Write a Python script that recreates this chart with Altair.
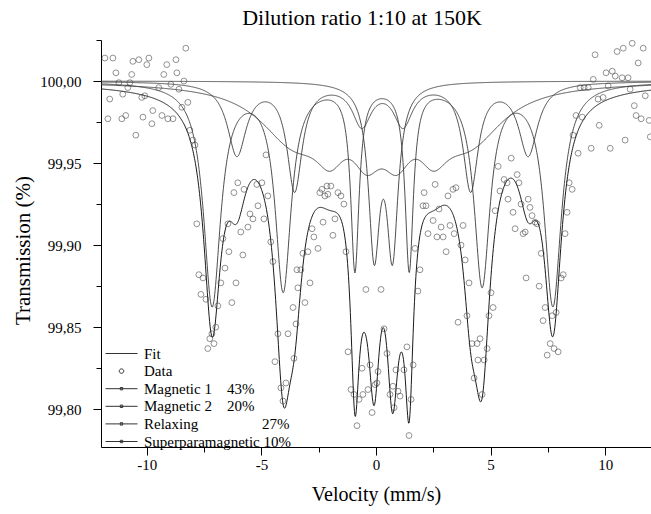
import numpy as np
import pandas as pd
import altair as alt

# ---- measured data points (velocity mm/s, transmission %) ----
data_v = [-11.83, -11.70, -11.62, -11.48, -11.35, -11.22, -11.09, -11.05, -10.92, -10.83,
          -10.74, -10.66, -10.61, -10.48, -10.35, -10.22, -10.17, -10.09, -10.00, -9.91,
          -9.78, -9.74, -9.48, -9.34, -9.26, -9.13, -9.08, -8.95, -8.86, -8.73,
          -8.69, -8.60, -8.47, -8.38, -8.30, -8.21, -8.12, -7.99, -7.90, -7.82,
          -7.73, -7.64, -7.55, -7.42, -7.34, -7.25, -7.16, -7.07, -6.99, -6.90,
          -6.77, -6.68, -6.59, -6.46, -6.42, -6.29, -6.20, -6.11, -6.03, -5.90,
          -5.81, -5.76, -5.59, -5.50, -5.37, -5.20, -5.15, -4.98, -4.89, -4.80,
          -4.72, -4.59, -4.50, -4.41, -4.28, -4.15, -4.06, -3.93, -3.84, -3.62,
          -3.58, -3.49, -3.45, -3.41, -3.28, -3.19, -3.10, -2.97, -2.88, -2.79,
          -2.71, -2.53, -2.45, -2.36, -2.31, -2.23, -2.14, -2.10, -1.97, -1.88,
          -1.79, -1.66, -1.53, -1.40, -1.31, -1.22, -1.09, -0.96, -0.83, -0.74,
          -0.61, -0.57, -0.44, -0.35, -0.26, -0.17, -0.04, 0.04, 0.09, 0.22,
          0.35, 0.48, 0.61, 0.74, 0.79, 0.87, 0.96, 1.05, 1.22, 1.35,
          1.44, 1.53, 1.62, 1.70, 1.83, 1.92, 2.05, 2.10, 2.18, 2.27,
          2.49, 2.58, 2.66, 2.75, 2.84, 2.93, 3.06, 3.14, 3.23, 3.36,
          3.41, 3.49, 3.58, 3.71, 3.80, 3.89, 3.97, 4.06, 4.19, 4.28,
          4.41, 4.45, 4.54, 4.63, 4.72, 4.85, 4.93, 5.02, 5.11, 5.20,
          5.33, 5.41, 5.59, 5.72, 5.76, 5.90, 5.98, 6.07, 6.16, 6.24,
          6.33, 6.42, 6.51, 6.55, 6.64, 6.72, 6.81, 6.94, 7.03, 7.12,
          7.21, 7.29, 7.38, 7.47, 7.60, 7.69, 7.77, 7.86, 7.95, 8.08,
          8.17, 8.25, 8.34, 8.43, 8.56, 8.60, 8.73, 8.82, 8.91, 9.00,
          9.08, 9.26, 9.39, 9.48, 9.56, 9.69, 9.74, 9.91, 10.04, 10.13,
          10.22, 10.31, 10.44, 10.52, 10.74, 10.79, 10.87, 11.00, 11.09, 11.18,
          11.27, 11.35, 11.44, 11.57, 11.66, 11.75, 11.92, 11.97]
data_t = [100.014, 99.977, 99.989, 100.014, 100.005, 99.999, 99.977, 99.992, 99.979, 99.996,
          99.999, 100.004, 100.012, 99.967, 100.013, 99.990, 99.978, 99.991, 100.010, 100.014,
          99.974, 99.982, 99.996, 99.979, 100.004, 100.010, 99.977, 99.998, 99.977, 100.013,
          100.005, 99.995, 99.984, 100.000, 100.020, 99.987, 99.970, 99.964, 99.961, 99.913,
          99.882, 99.870, 99.880, 99.867, 99.837, 99.843, 99.846, 99.840, 99.850, 99.863,
          99.877, 99.904, 99.886, 99.913, 99.896, 99.865, 99.932, 99.877, 99.938, 99.908,
          99.894, 99.934, 99.911, 99.919, 99.916, 99.937, 99.924, 99.938, 99.916, 99.955,
          99.930, 99.902, 99.890, 99.829, 99.846, 99.813, 99.805, 99.816, 99.846, 99.862,
          99.831, 99.852, 99.885, 99.874, 99.885, 99.895, 99.865, 99.896, 99.877, 99.910,
          99.905, 99.898, 99.932, 99.934, 99.914, 99.930, 99.936, 99.931, 99.936, 99.906,
          99.916, 99.932, 99.930, 99.925, 99.896, 99.835, 99.812, 99.809, 99.790, 99.806,
          99.825, 99.809, 99.873, 99.812, 99.827, 99.798, 99.815, 99.816, 99.823, 99.873,
          99.849, 99.834, 99.809, 99.814, 99.801, 99.824, 99.811, 99.808, 99.824, 99.838,
          99.784, 99.806, 99.827, 99.898, 99.872, 99.885, 99.924, 99.932, 99.924, 99.907,
          99.915, 99.937, 99.905, 99.922, 99.911, 99.905, 99.896, 99.930, 99.912, 99.934,
          99.907, 99.935, 99.853, 99.900, 99.912, 99.891, 99.857, 99.877, 99.840, 99.819,
          99.840, 99.830, 99.843, 99.809, 99.830, 99.837, 99.857, 99.871, 99.862, 99.921,
          99.948, 99.933, 99.940, 99.938, 99.928, 99.953, 99.920, 99.910, 99.943, 99.938,
          99.925, 99.907, 99.908, 99.880, 99.928, 99.923, 99.918, 99.914, 99.913, 99.875,
          99.895, 99.854, 99.862, 99.833, 99.840, 99.857, 99.837, 99.859, 99.835, 99.880,
          99.882, 99.907, 99.920, 99.938, 99.934, 99.967, 99.979, 99.956, 99.996, 99.978,
          99.996, 99.996, 99.959, 100.001, 100.016, 99.989, 99.973, 99.990, 100.005, 99.997,
          99.959, 100.006, 100.003, 100.018, 100.002, 100.020, 99.964, 100.002, 99.995, 100.023,
          99.985, 99.979, 100.011, 99.977, 100.020, 99.991, 99.976, 99.966]

# ---- subspectra: line positions (mm/s), depths (%), half widths (mm/s) ----
mag1_pos = [-7.15, -4.05, -0.92, 1.45, 4.63, 7.72]
mag1_depth = [0.135, 0.125, 0.112, 0.112, 0.122, 0.135]
mag1_hwhm = [0.45, 0.42, 0.22, 0.22, 0.42, 0.45]

mag2_pos = [-6.07, -3.55, -0.62, 1.18, 4.13, 6.64]
mag2_depth = [0.044, 0.065, 0.025, 0.025, 0.065, 0.044]
mag2_hwhm = [0.5, 0.4, 0.5, 0.5, 0.4, 0.5]

relax_pos = [-3.6, -2.0, -0.4, 0.9, 2.5, 4.1]
relax_depth = [0.033, 0.025, 0.03, 0.03, 0.025, 0.033]
relax_hwhm = [1.8, 0.8, 0.8, 0.8, 0.8, 1.8]

sp_pos = [-0.08, 0.72]
sp_depth = [0.1, 0.1]
sp_hwhm = [0.3, 0.3]

legend_labels = ["Fit", "Data",
                 "Magnetic 1\u00a0\u00a0\u00a0\u00a043%",
                 "Magnetic 2\u00a0\u00a0\u00a0\u00a020%",
                 "Relaxing" + "\u00a0" * 17 + "27%",
                 "Superparamagnetic 10%"]

FONT = "Liberation Serif"

v = np.linspace(-12, 12, 1201)


def absorption(pos, depth, hwhm):
    a = np.zeros_like(v)
    for c, d, g in zip(pos, depth, hwhm):
        a += d / (1.0 + ((v - c) / g) ** 2)
    return a


a_m1 = absorption(mag1_pos, mag1_depth, mag1_hwhm)
a_m2 = absorption(mag2_pos, mag2_depth, mag2_hwhm)
a_rx = absorption(relax_pos, relax_depth, relax_hwhm)
a_sp = absorption(sp_pos, sp_depth, sp_hwhm)

comp_df = pd.concat([
    pd.DataFrame({"v": v, "T": 100 - a_m1, "comp": "m1"}),
    pd.DataFrame({"v": v, "T": 100 - a_m2, "comp": "m2"}),
    pd.DataFrame({"v": v, "T": 100 - a_rx, "comp": "rx"}),
    pd.DataFrame({"v": v, "T": 100 - a_sp, "comp": "sp"}),
])
fit_df = pd.DataFrame({"v": v, "T": 100 - (a_m1 + a_m2 + a_rx + a_sp)})
pts_df = pd.DataFrame({"v": data_v, "T": data_t})
leg_df = pd.DataFrame({"series": legend_labels})

xs = alt.Scale(domain=[-12, 12], nice=False, zero=False)
ys = alt.Scale(domain=[99.777, 100.025], nice=False, zero=False)

x_vals = [-10, -7.5, -5, -2.5, 0, 2.5, 5, 7.5, 10]
y_vals = [round(99.775 + 0.025 * i, 3) for i in range(11)]
y_major = "abs(datum.value * 20 - round(datum.value * 20)) < 0.01"

x_axis = alt.Axis(
    values=x_vals,
    labelExpr="datum.value % 5 === 0 ? '' + datum.value : ''",
    tickSize={"condition": {"test": "datum.value % 5 === 0", "value": 8}, "value": 5},
    title="Velocity (mm/s)", grid=False,
    domainColor="black", tickColor="black", labelColor="black", titleColor="black",
    labelFont=FONT, labelFontSize=15, titleFont=FONT, titleFontSize=20,
    titleFontWeight="normal", labelPadding=2, titlePadding=12, labelFlush=False,
)
y_axis = alt.Axis(
    values=y_vals,
    labelExpr=f"{y_major} ? replace(format(datum.value, '.2f'), '.', ',') : ''",
    tickSize={"condition": {"test": y_major, "value": 8}, "value": 5},
    title="Transmission (%)", grid=False,
    domainColor="black", tickColor="black", labelColor="black", titleColor="black",
    labelFont=FONT, labelFontSize=15, titleFont=FONT, titleFontSize=21,
    titleFontWeight="normal", labelPadding=12, titlePadding=6, labelFlush=False,
    titleY=210,
)

X = alt.X("v:Q", scale=xs, axis=x_axis)
Y = alt.Y("T:Q", scale=ys, axis=y_axis)

comps = alt.Chart(comp_df).mark_line(color="#3a3a3a", strokeWidth=0.9, clip=True).encode(
    x=X, y=Y, detail="comp:N")
fit = alt.Chart(fit_df).mark_line(color="#1a1a1a", strokeWidth=1.0, clip=True).encode(x=X, y=Y)
pts = alt.Chart(pts_df).mark_point(shape="circle", filled=False, size=34, strokeWidth=0.8,
                                   color="#3c3c3c", clip=True).encode(x=X, y=Y)

line_sym = "M-2,0H2"
dot_line_sym = "M-2,0H2M-0.15,-0.15H0.15V0.15H-0.15Z"
circ_sym = "M0.28,0A0.28,0.28,0,1,1,-0.28,0A0.28,0.28,0,1,1,0.28,0Z"

legend_layer = alt.Chart(leg_df).mark_point(filled=False, opacity=0, color="#333333").encode(
    shape=alt.Shape(
        "series:N",
        scale=alt.Scale(domain=legend_labels,
                        range=[line_sym, circ_sym, dot_line_sym, dot_line_sym,
                               dot_line_sym, dot_line_sym]),
        legend=alt.Legend(
            orient="none", legendX=12, legendY=305, title=None, padding=0,
            labelFont=FONT, labelFontSize=15, labelColor="black", labelLimit=300,
            symbolSize=256, symbolStrokeWidth=1, symbolOpacity=1,
            symbolStrokeColor="#333333", symbolFillColor="transparent",
            rowPadding=0.6, labelOffset=14,
        ),
    )
)

chart = alt.layer(comps, fit, pts, legend_layer).properties(
    width=550, height=407,
    title=alt.Title("Dilution ratio 1:10 at 150K", font=FONT, fontSize=22,
                    fontWeight="normal", color="black", dx=-14, offset=10),
    autosize=alt.AutoSizeParams(type="none"),
    padding={"left": 101, "top": 40, "right": 0, "bottom": 67},
).configure(
    background="white", font=FONT
).configure_view(
    stroke=None
).configure_axis(
    labelFont=FONT, titleFont=FONT
).configure_legend(
    labelFont=FONT
).configure_title(
    font=FONT
)

chart.save("out.html", embed_options={"renderer": "svg", "actions": False})
